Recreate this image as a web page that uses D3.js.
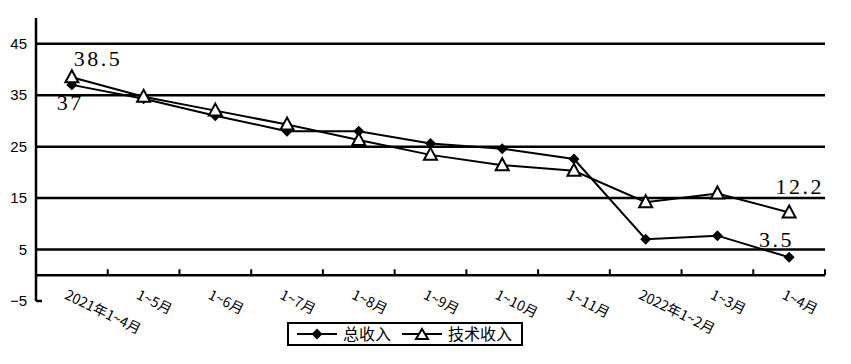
<!DOCTYPE html>
<html>
<head>
<meta charset="utf-8">
<script src="https://cdn.jsdelivr.net/npm/d3@7"></script>
<style>
  body { margin: 0; background: #fff; }
  svg { display: block; }
</style>
</head>
<body>
<div id="chart"></div>
<script>
const months = ["2021年1~4月", "1~5月", "1~6月", "1~7月", "1~8月", "1~9月", "1~10月", "1~11月", "2022年1~2月", "1~3月", "1~4月"];
const totalIncome = [37, 34.3, 31.0, 28.0, 28.0, 25.6, 24.6, 22.6, 7.0, 7.7, 3.5];
const techIncome = [38.5, 34.7, 32.0, 29.3, 26.3, 23.4, 21.4, 20.3, 14.2, 15.9, 12.2];
const yTicks = [-5, 5, 15, 25, 35, 45];
const gridValues = [5, 15, 25, 35, 45];
const seriesNames = ["总收入", "技术收入"];

const svgWidth = 851;
const svgHeight = 364;
const plotLeft = 36;
const plotRight = 825;
const plotTop = 18;
const plotBottom = 301;

const svg = d3
  .select("#chart")
  .append("svg")
  .attr("width", svgWidth)
  .attr("height", svgHeight);

const xScale = d3.scaleBand().domain(months).range([plotLeft, plotRight]).padding(0);
const yScale = d3.scaleLinear().domain([-5, 50]).range([plotBottom, plotTop]);
const cx = (d) => xScale(d) + xScale.bandwidth() / 2;

// gridlines
svg
  .append("g")
  .selectAll("line")
  .data(gridValues)
  .enter()
  .append("line")
  .attr("x1", plotLeft)
  .attr("x2", plotRight)
  .attr("y1", (d) => yScale(d))
  .attr("y2", (d) => yScale(d))
  .attr("stroke", "#000")
  .attr("stroke-width", 2.5);

// y axis
const yAxis = d3.axisLeft(yScale).tickValues(yTicks).tickSize(0).tickPadding(9);
const yG = svg
  .append("g")
  .attr("transform", `translate(${plotLeft}, 0)`)
  .call(yAxis);
yG.select(".domain").remove();
yG.selectAll("text")
  .style("font-family", "'Liberation Sans', Arial, sans-serif")
  .style("font-size", "15px")
  .attr("fill", "#000");

svg
  .append("line")
  .attr("x1", plotLeft)
  .attr("x2", plotLeft)
  .attr("y1", plotTop)
  .attr("y2", plotBottom)
  .attr("stroke", "#000")
  .attr("stroke-width", 2.5);
svg
  .append("line")
  .attr("x1", plotLeft)
  .attr("x2", plotLeft + 6)
  .attr("y1", plotBottom)
  .attr("y2", plotBottom)
  .attr("stroke", "#000")
  .attr("stroke-width", 2.5);

// x axis at zero
const y0 = yScale(0);
svg
  .append("line")
  .attr("x1", plotLeft)
  .attr("x2", plotRight)
  .attr("y1", y0)
  .attr("y2", y0)
  .attr("stroke", "#000")
  .attr("stroke-width", 2.5);

svg
  .append("g")
  .selectAll("line")
  .data(months)
  .enter()
  .append("line")
  .attr("x1", (d) => xScale(d) + xScale.bandwidth())
  .attr("x2", (d) => xScale(d) + xScale.bandwidth())
  .attr("y1", y0)
  .attr("y2", y0 - 6)
  .attr("stroke", "#000")
  .attr("stroke-width", 2);

svg
  .append("g")
  .selectAll("text")
  .data(months)
  .enter()
  .append("text")
  .attr("transform", (d) => `translate(${cx(d) - 8}, ${y0 + 23}) rotate(26)`)
  .text((d) => d)
  .style("font-family", "'Noto Sans CJK SC', sans-serif")
  .style("font-size", "14px")
  .attr("fill", "#000");

// lines
const line = d3
  .line()
  .x((d, i) => cx(months[i]))
  .y((d) => yScale(d));

svg
  .append("path")
  .datum(totalIncome)
  .attr("d", line)
  .attr("fill", "none")
  .attr("stroke", "#000")
  .attr("stroke-width", 2);

svg
  .append("path")
  .datum(techIncome)
  .attr("d", line)
  .attr("fill", "none")
  .attr("stroke", "#000")
  .attr("stroke-width", 2);

const diamond = d3.symbol().type(d3.symbolSquare).size(60);
const triangle = "M0,-7L6.5,5L-6.5,5Z";

svg
  .append("g")
  .selectAll("path")
  .data(totalIncome)
  .enter()
  .append("path")
  .attr("d", diamond)
  .attr("transform", (d, i) => `translate(${cx(months[i])}, ${yScale(d)}) rotate(45)`)
  .attr("fill", "#000");

svg
  .append("g")
  .selectAll("path")
  .data(techIncome)
  .enter()
  .append("path")
  .attr("d", triangle)
  .attr("transform", (d, i) => `translate(${cx(months[i])}, ${yScale(d)})`)
  .attr("fill", "#fff")
  .attr("stroke", "#000")
  .attr("stroke-width", 2);

// value labels
const labelFont = "'Liberation Serif', 'DejaVu Serif', serif";
const last = months.length - 1;
const labels = [
  { text: techIncome[0], x: cx(months[0]) + 2, y: yScale(techIncome[0]) - 11, anchor: "start" },
  { text: totalIncome[0], x: cx(months[0]) - 15, y: yScale(totalIncome[0]) + 25, anchor: "start" },
  { text: techIncome[last], x: plotRight - 1, y: yScale(techIncome[last]) - 18, anchor: "end" },
  { text: totalIncome[last], x: plotRight - 31, y: yScale(totalIncome[last]) - 10, anchor: "end" },
];

svg
  .append("g")
  .selectAll("text")
  .data(labels)
  .enter()
  .append("text")
  .attr("x", (d) => d.x)
  .attr("y", (d) => d.y)
  .attr("text-anchor", (d) => d.anchor)
  .text((d) => d.text)
  .style("font-family", labelFont)
  .style("font-size", "22px")
  .style("letter-spacing", "2.5px")
  .attr("fill", "#000");

// legend
const legend = svg.append("g").attr("transform", "translate(288, 323)");
legend
  .append("rect")
  .attr("width", 234)
  .attr("height", 22)
  .attr("fill", "#fff")
  .attr("stroke", "#000")
  .attr("stroke-width", 2);

const legendItems = [
  { name: seriesNames[0], x: 9, textX: 55, marker: "diamond" },
  { name: seriesNames[1], x: 114, textX: 160, marker: "triangle" },
];

legendItems.forEach((item) => {
  legend
    .append("line")
    .attr("x1", item.x)
    .attr("x2", item.x + 40)
    .attr("y1", 11)
    .attr("y2", 11)
    .attr("stroke", "#000")
    .attr("stroke-width", 2);
  if (item.marker === "diamond") {
    legend
      .append("path")
      .attr("d", diamond)
      .attr("transform", `translate(${item.x + 20}, 11) rotate(45)`)
      .attr("fill", "#000");
  } else {
    legend
      .append("path")
      .attr("d", "M0,-6L6,4L-6,4Z")
      .attr("transform", `translate(${item.x + 20}, 12)`)
      .attr("fill", "#fff")
      .attr("stroke", "#000")
      .attr("stroke-width", 2);
  }
  legend
    .append("text")
    .attr("x", item.textX)
    .attr("y", 17)
    .text(item.name)
    .style("font-family", "'Noto Sans CJK SC', sans-serif")
    .style("font-size", "16px")
    .attr("fill", "#000");
});
</script>
</body>
</html>
